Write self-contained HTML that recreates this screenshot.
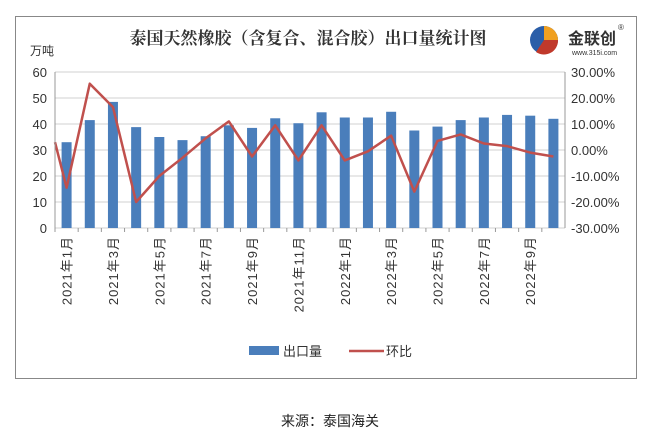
<!DOCTYPE html>
<html><head><meta charset="utf-8"><style>
body{margin:0;background:#fff;width:648px;height:443px;overflow:hidden;font-family:"Liberation Sans","Noto Sans CJK SC",sans-serif}
</style></head><body>
<svg id="c" width="648" height="443" style="position:absolute;left:0;top:0">
<rect x="15.5" y="16.5" width="621" height="362" fill="#fff" stroke="#888" stroke-width="1"/>
<text x="308" y="44" font-size="17" font-weight="bold" text-anchor="middle" font-family="'Noto Serif CJK SC',serif" fill="#333">泰国天然橡胶（含复合、混合胶）出口量统计图</text>
<g>
<circle cx="544" cy="40" r="14" fill="#2a5ea8"/><path d="M544 26 A14 14 0 0 1 558 40 L544 40Z" fill="#f0a020"/><path d="M544 40 L558 40 A14 14 0 0 1 536 52Z" fill="#c0392b"/>
<text x="568" y="44" font-size="16" font-weight="bold" fill="#333">金联创</text>
<text x="572" y="55" font-size="7" fill="#333">www.315i.com</text>
<text x="618" y="30" font-size="8" fill="#333">®</text></g>
<text x="30" y="55" font-size="12" fill="#333">万吨</text>
<g id="grid"></g><g id="bars"></g><g id="line"></g><g id="axes"></g>
<g>
<rect x="249" y="346" width="30" height="9" fill="#4a7ebb"/>
<text x="283" y="356" font-size="13" fill="#333">出口量</text>
<line x1="349" y1="351" x2="384" y2="351" stroke="#c0504d" stroke-width="2.5"/>
<text x="386" y="356" font-size="13" fill="#333">环比</text></g>
<text x="330" y="426" font-size="14" fill="#222" text-anchor="middle">来源：泰国海关</text>
</svg>
<script>
const categories=["2021年1月","2021年2月","2021年3月","2021年4月","2021年5月","2021年6月","2021年7月","2021年8月","2021年9月","2021年10月","2021年11月","2021年12月","2022年1月","2022年2月","2022年3月","2022年4月","2022年5月","2022年6月","2022年7月","2022年8月","2022年9月","2022年10月"];
const volume=[33,41.5,48.5,38.8,35,33.8,35.3,39.5,38.5,42.2,40.3,44.5,42.5,42.5,44.7,37.5,39,41.5,42.5,43.5,43.2,42];
const mom=[-14.5,25.5,16.5,-20,-10,-3,4.5,11,-2.5,9.5,-4,9.5,-4,-0.5,5.5,-16,3.5,6,2.5,1.5,-1,-2.5];
const leftTicks=[0,10,20,30,40,50,60];
const rightTicks=["-30.00%","-20.00%","-10.00%","0.00%","10.00%","20.00%","30.00%"];
const ns="http://www.w3.org/2000/svg";
const X0=55,X1=565,Y0=228,Y1=72;
const cw=(X1-X0)/categories.length;
const xc=i=>X0+cw*(i+0.5);
const yL=v=>Y0-(v/60)*(Y0-Y1);
const yR=v=>Y0-((v+30)/60)*(Y0-Y1);
function mk(t,a,p){const e=document.createElementNS(ns,t);for(const k in a)e.setAttribute(k,a[k]);p.appendChild(e);return e;}
const g=document.getElementById('grid'),b=document.getElementById('bars'),l=document.getElementById('line'),ax=document.getElementById('axes');
leftTicks.forEach((v,i)=>{
 const y=yL(v);
 const ln=mk('line',{x1:X0,x2:X1,y1:y,y2:y,stroke:'#d0d0d0'},g);
 
 
 const t=mk('text',{x:X0-8,y:y+5,'font-size':13,'text-anchor':'end',fill:'#333'},ax);t.textContent=v;
 
 
 const t2=mk('text',{x:X1+6,y:y+5,'font-size':13,fill:'#333'},ax);t2.textContent=rightTicks[i];
 
 
});
mk('line',{x1:X0,x2:X0,y1:Y1,y2:Y0,stroke:'#999'},ax);
mk('line',{x1:X1,x2:X1,y1:Y1,y2:Y0,stroke:'#999'},ax);
volume.forEach((v,i)=>{
 const r=mk('rect',{x:xc(i)-5,y:yL(v),width:10,height:Y0-yL(v),fill:'#4a7ebb'},b);
 
 
});
let d='M'+X0+' '+yR(3);
mom.forEach((v,i)=>{d+=' L'+xc(i)+' '+yR(v);});
const p=mk('path',{d:d,fill:'none',stroke:'#c0504d','stroke-width':2.5,'stroke-linejoin':'round'},l);


categories.forEach((c,i)=>{
 mk('line',{x1:X0+cw*i,x2:X0+cw*i,y1:Y0,y2:Y0+4,stroke:'#999'},ax);
 if(i%2==0){
  const t=mk('text',{x:0,y:0,'font-size':13,'letter-spacing':'1','text-anchor':'end',fill:'#333',transform:`translate(${xc(i)+5},236) rotate(-90)`},ax);
  t.textContent=c;
  
  
 }
});
</script>
</body></html>
